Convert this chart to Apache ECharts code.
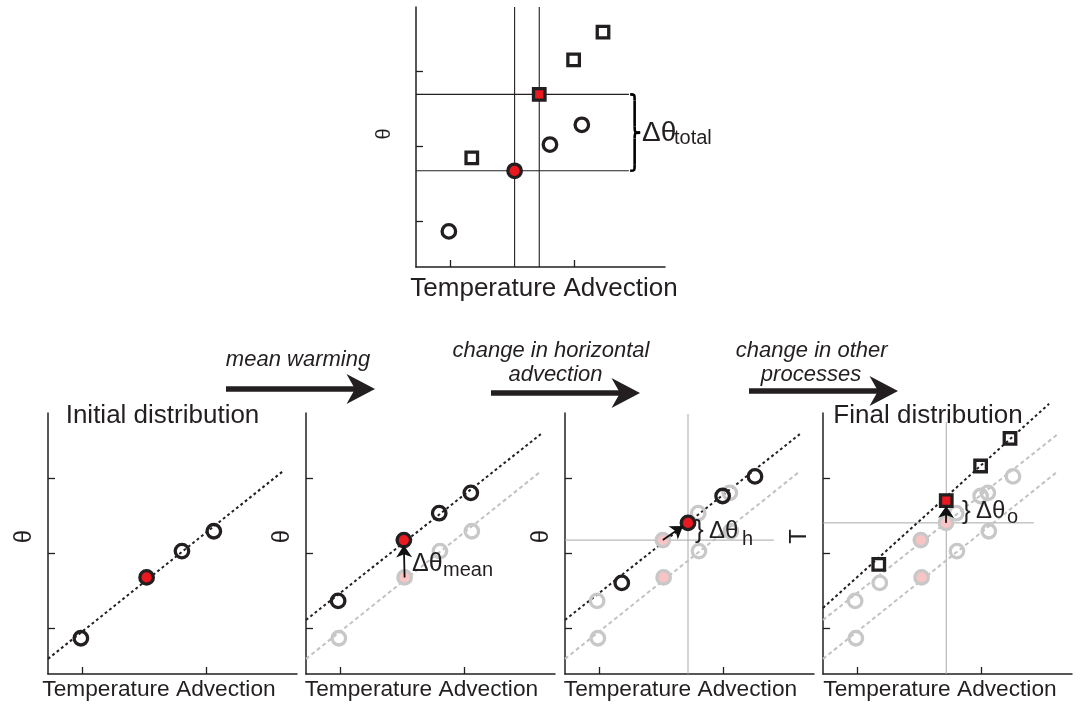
<!DOCTYPE html>
<html>
<head>
<meta charset="utf-8">
<script src="https://cdn.jsdelivr.net/npm/echarts@6/dist/echarts.min.js"></script>
<style>
  html, body { margin: 0; padding: 0; background: #ffffff; }
  #chart { width: 1082px; height: 704px; }
</style>
</head>
<body>
<div id="chart"></div>
<script>
// Four grid points (temperature advection, theta) at each stage of the decomposition
const initX  = [1.32, 3.96, 5.38, 6.66];
const initY  = [1.37, 3.70, 4.71, 5.47];
const warmX  = [1.29, 3.93, 5.35, 6.62];
const warmY  = [2.80, 5.13, 6.16, 6.94];
const advX   = [2.28, 4.94, 6.33, 7.63];
const advY   = [3.49, 5.79, 6.82, 7.57];
const finalX = [2.24, 4.95, 6.33, 7.51];
const finalY = [4.20, 6.64, 7.97, 9.03];
const redIndex = 1; // the highlighted grid point

// Theta / advection relationships (end points of each fitted line)
const initLine  = [[0, 0.58], [9.45, 7.78]];
const warmLine  = [[0, 2.07], [9.43, 9.19]];
const finalLine = [[0, 2.53], [9.08, 10.35]];

// Tick positions (no tick labels are drawn)
const xTicks = [1.37, 6.35];
const yTicks = [1.76, 4.64, 7.51];

const FONT = '"Liberation Sans", Arial, Helvetica, sans-serif';
const INK = '#231f20';
const RED = '#e8191f';
const PINK = '#f9c4c4';
const GREY = '#c8c8c8';
const GUIDE = '#a8a8a8';

const chart = echarts.init(document.getElementById('chart'), null, { renderer: 'canvas' });

const grids = [
  { left: 416, top: 7,   width: 249, height: 260 },
  { left: 48,  top: 413, width: 249, height: 261 },
  { left: 306, top: 413, width: 249, height: 261 },
  { left: 565, top: 413, width: 249, height: 261 },
  { left: 823, top: 413, width: 249, height: 261 }
];

function pad(shift) {
  return shift < 0 ? [0, -2 * shift, 0, 0] : [0, 0, 0, 2 * shift];
}

function xAxisFor(gi, gap, shift, size) {
  return {
    gridIndex: gi, type: 'value', min: 0, max: 10,
    axisLine: { show: true, onZero: false, lineStyle: { color: INK, width: 1.5 } },
    axisTick: { show: true, inside: true, length: 7, customValues: xTicks, lineStyle: { color: INK, width: 1.3 } },
    axisLabel: { show: false },
    splitLine: { show: false },
    name: 'Temperature Advection', nameLocation: 'middle', nameGap: gap,
    nameTextStyle: { fontFamily: FONT, fontSize: size, color: INK, padding: pad(shift) }
  };
}

function yAxisFor(gi, name, gap, shift, size) {
  return {
    gridIndex: gi, type: 'value', min: 0, max: 10,
    axisLine: { show: true, onZero: false, lineStyle: { color: INK, width: 1.5 } },
    axisTick: { show: true, inside: true, length: 7, customValues: yTicks, lineStyle: { color: INK, width: 1.3 } },
    axisLabel: { show: false },
    splitLine: { show: false },
    name: name, nameLocation: 'middle', nameRotate: 90, nameGap: gap,
    nameTextStyle: { fontFamily: FONT, fontSize: size, color: INK, padding: pad(shift) }
  };
}

const marker = {
  ink:      { color: 'rgba(0,0,0,0)', borderColor: INK,  borderWidth: 3.3, opacity: 1 },
  inkRed:   { color: RED,             borderColor: INK,  borderWidth: 3.3, opacity: 1 },
  ghost:    { color: 'rgba(0,0,0,0)', borderColor: GREY, borderWidth: 3.3, opacity: 1 },
  ghostRed: { color: PINK,            borderColor: GREY, borderWidth: 3.3, opacity: 1 }
};

function points(gi, xs, ys, tone, symbol) {
  return {
    type: 'scatter', xAxisIndex: gi, yAxisIndex: gi, silent: true,
    symbol: symbol, symbolSize: symbol === 'rect' ? 11.5 : 13.5,
    z: tone === 'ink' ? 5 : 4,
    itemStyle: { opacity: 1 },
    data: xs.map((x, i) => ({
      value: [x, ys[i]],
      itemStyle: i === redIndex ? marker[tone + 'Red'] : marker[tone]
    }))
  };
}

function fit(gi, pts, tone) {
  return {
    type: 'line', xAxisIndex: gi, yAxisIndex: gi, data: pts,
    showSymbol: false, symbol: 'none', clip: false, silent: true, z: 2,
    lineStyle: tone === 'ink'
      ? { color: INK, width: 2, type: [2.8, 2.8] }
      : { color: '#c2c2c2', width: 2, type: [4, 3] }
  };
}

function guide(gi, pts, color, width) {
  return {
    type: 'line', xAxisIndex: gi, yAxisIndex: gi, data: pts,
    showSymbol: false, symbol: 'none', clip: false, silent: true, z: 1,
    lineStyle: { color: color, width: width, type: 'solid' }
  };
}

function shiftArrow(gi, from, to) {
  return {
    type: 'lines', coordinateSystem: 'cartesian2d', xAxisIndex: gi, yAxisIndex: gi,
    silent: true, z: 6,
    symbol: ['none', 'arrow'], symbolSize: 12,
    lineStyle: { color: '#111111', width: 1.8, opacity: 1, curveness: 0 },
    data: [{ coords: [from, to] }]
  };
}

const r = redIndex;

// Curly brace spanning the total change in theta of the highlighted point
const braceSeries = {
  type: 'custom', xAxisIndex: 0, yAxisIndex: 0, silent: true, z: 6,
  data: [[8.6, initY[r], finalY[r]]],
  renderItem: function (params, api) {
    const top = api.coord([api.value(0), api.value(2)]);
    const bot = api.coord([api.value(0), api.value(1)]);
    const x0 = top[0], yT = top[1], yB = bot[1], yM = (yT + yB) / 2;
    const xm = x0 + 4.5, xr = x0 + 10, k = 6;
    const st = { stroke: '#000', lineWidth: 2.6, fill: null };
    return {
      type: 'group',
      children: [
        { type: 'bezierCurve', shape: { x1: x0, y1: yT, cpx1: xm, cpy1: yT, cpx2: xm, cpy2: yT, x2: xm, y2: yT + k }, style: st },
        { type: 'line', shape: { x1: xm, y1: yT + k, x2: xm, y2: yM - k }, style: st },
        { type: 'bezierCurve', shape: { x1: xm, y1: yM - k, cpx1: xm, cpy1: yM, cpx2: xm, cpy2: yM, x2: xr, y2: yM }, style: st },
        { type: 'bezierCurve', shape: { x1: xr, y1: yM, cpx1: xm, cpy1: yM, cpx2: xm, cpy2: yM, x2: xm, y2: yM + k }, style: st },
        { type: 'line', shape: { x1: xm, y1: yM + k, x2: xm, y2: yB - k }, style: st },
        { type: 'bezierCurve', shape: { x1: xm, y1: yB - k, cpx1: xm, cpy1: yB, cpx2: xm, cpy2: yB, x2: x0, y2: yB }, style: st }
      ]
    };
  }
};

const series = [
  // top: combined change
  guide(0, [[initX[r], 0], [initX[r], 10]], INK, 1.1),
  guide(0, [[finalX[r], 0], [finalX[r], 10]], INK, 1.1),
  guide(0, [[0, initY[r]], [8.55, initY[r]]], INK, 1.1),
  guide(0, [[0, finalY[r]], [8.55, finalY[r]]], INK, 1.1),
  points(0, initX, initY, 'ink', 'circle'),
  points(0, finalX, finalY, 'ink', 'rect'),
  braceSeries,

  // initial distribution
  fit(1, initLine, 'ink'),
  points(1, initX, initY, 'ink', 'circle'),

  // mean warming
  fit(2, initLine, 'ghost'),
  fit(2, warmLine, 'ink'),
  points(2, initX, initY, 'ghost', 'circle'),
  points(2, warmX, warmY, 'ink', 'circle'),
  shiftArrow(2, [initX[r], initY[r]], [warmX[r], warmY[r] - 0.2]),

  // change in horizontal advection
  guide(3, [[advX[r], 0], [advX[r], 9.96]], GUIDE, 1),
  guide(3, [[0, warmY[r]], [8.39, warmY[r]]], GUIDE, 1),
  fit(3, initLine, 'ghost'),
  fit(3, warmLine, 'ink'),
  points(3, initX, initY, 'ghost', 'circle'),
  points(3, warmX, warmY, 'ghost', 'circle'),
  points(3, advX, advY, 'ink', 'circle'),
  shiftArrow(3, [warmX[r], warmY[r]], [advX[r] - 0.2, advY[r] - 0.12]),

  // change in other processes
  guide(4, [[finalX[r], 0], [finalX[r], 9.65]], GUIDE, 1),
  guide(4, [[0, advY[r]], [8.47, advY[r]]], GUIDE, 1),
  fit(4, initLine, 'ghost'),
  fit(4, warmLine, 'ghost'),
  fit(4, finalLine, 'ink'),
  points(4, initX, initY, 'ghost', 'circle'),
  points(4, warmX, warmY, 'ghost', 'circle'),
  points(4, advX, advY, 'ghost', 'circle'),
  points(4, finalX, finalY, 'ink', 'rect'),
  shiftArrow(4, [advX[r], advY[r]], [finalX[r], finalY[r] - 0.2])
];

function label(text, x, y, size, extra) {
  return {
    type: 'text', z: 10, silent: true,
    style: Object.assign({
      text: text, x: x, y: y, fontFamily: FONT, fontSize: size, fill: INK,
      align: 'left', verticalAlign: 'middle'
    }, extra || {})
  };
}

function centered(text, x, y, size, italic) {
  return label(text, x, y, size, { align: 'center', fontStyle: italic ? 'italic' : 'normal' });
}

// Block arrow between stages: shaft plus a swept head whose tip sits at (tx, ty)
function stageArrow(x0, tx, ty) {
  return [
    { type: 'rect', silent: true, shape: { x: x0, y: ty - 2.7, width: tx - 18 - x0, height: 5.4 }, style: { fill: INK } },
    { type: 'polygon', silent: true,
      shape: { points: [[tx - 28.5, ty - 15], [tx, ty], [tx - 28.5, ty + 15], [tx - 20, ty]] },
      style: { fill: INK } }
  ];
}

const graphic = [].concat(
  stageArrow(226, 375, 389),
  stageArrow(491, 640, 393),
  stageArrow(749, 898, 391),
  [
    centered('mean warming', 298, 360, 22, true),
    centered('change in horizontal', 551, 351, 22, true),
    centered('advection', 555.5, 375, 22, true),
    centered('change in other', 811.7, 351, 22, true),
    centered('processes', 811, 375, 22, true),

    centered('Initial distribution', 162.5, 416, 26, false),
    centered('Final distribution', 928, 416, 26, false),

    label('\u0394\u03b8', 642, 133.5, 28),
    label('total', 674, 138.5, 20),
    label('\u0394\u03b8', 412, 564, 25),
    label('mean', 443, 570, 20),
    label('}', 695, 531, 26),
    label('\u0394\u03b8', 709, 531.5, 24),
    label('h', 742, 539, 20),
    label('}', 962, 512, 26),
    label('\u0394\u03b8', 976, 511.5, 24),
    label('o', 1007, 517, 20)
  ]
);

chart.setOption({
  animation: false,
  backgroundColor: '#ffffff',
  grid: grids,
  xAxis: [
    xAxisFor(0, 9, 3.5, 26),
    xAxisFor(1, 4, -13.5, 22.7),
    xAxisFor(2, 4, -9, 22.7),
    xAxisFor(3, 4, -9, 22.7),
    xAxisFor(4, 4, -7.5, 22.7)
  ],
  yAxis: [
    yAxisFor(0, '\u03b8', 22, 3, 20),
    yAxisFor(1, '\u03b8', 12, 7, 24),
    yAxisFor(2, '\u03b8', 12, 7, 24),
    yAxisFor(3, '\u03b8', 12, 7, 24),
    yAxisFor(4, 'T', 12, 7, 24)
  ],
  series: series,
  graphic: graphic
});
</script>
</body>
</html>
